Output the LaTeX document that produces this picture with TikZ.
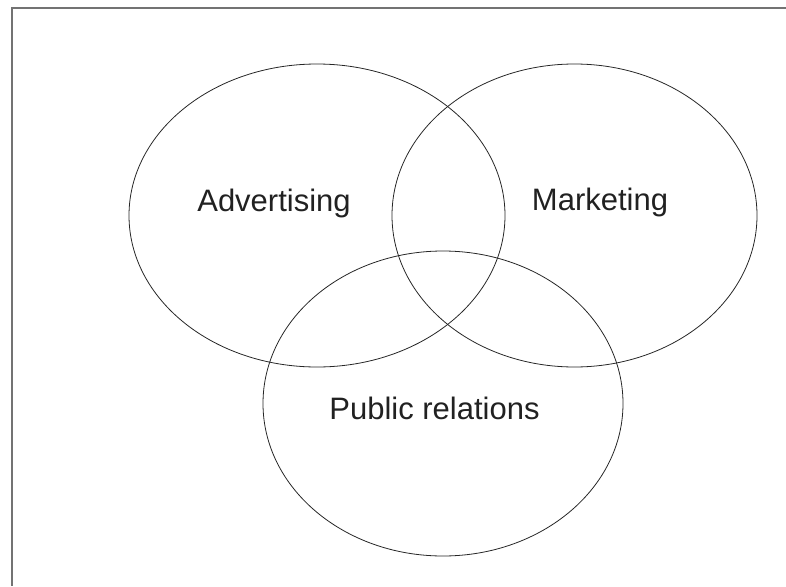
\documentclass[tikz,border=0pt]{standalone}
\usepackage{fontspec}
\setmainfont{Liberation Sans}
\usetikzlibrary{shapes.geometric}
\begin{document}
\begin{tikzpicture}[x=1pt,y=-1pt,
  venn/.style={draw=black!85, line width=0.8pt, ellipse, inner sep=0pt},
  lbl/.style={text=black!87, font=\fontsize{31}{36}\selectfont, inner sep=0pt, anchor=center}]
\useasboundingbox (0,0) rectangle (786,586);
\coordinate (tl) at (12,8);
\coordinate (tr) at (786,8);
\coordinate (bl) at (12,586);
\draw[black!55, line width=1.5pt] (tr) -- (tl) -- (bl);
\node[venn, minimum width=376pt, minimum height=303pt] (adv) at (317,215.5) {};
\node[venn, minimum width=365pt, minimum height=303pt] (mkt) at (574.5,215.5) {};
\node[venn, minimum width=360pt, minimum height=305pt] (pr) at (443,403.5) {};
\node[lbl] (tadv) at (274,203) {\vphantom{A}Advertising};
\node[lbl] (tmkt) at (600,202) {\vphantom{A}Marketing};
\node[lbl] (tpr) at (434.5,408) {\vphantom{A}Public relations};
\end{tikzpicture}
\end{document}
